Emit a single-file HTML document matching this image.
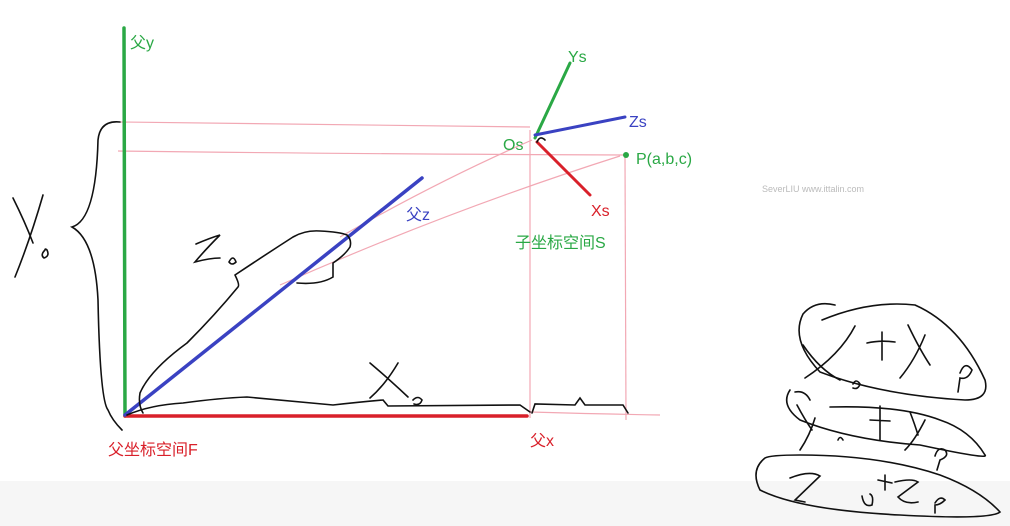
<!DOCTYPE html>
<html><head><meta charset="utf-8"><style>
html,body{margin:0;padding:0;background:#fff}
svg{display:block}
text{font-family:"Liberation Sans","Noto Sans CJK SC",sans-serif}
</style></head><body>
<svg width="1010" height="526" viewBox="0 0 1010 526">
<rect x="0" y="0" width="1010" height="526" fill="#fff"/>
<rect x="0" y="481" width="1010" height="45" fill="#f6f6f6"/>
<g stroke="#f2a8b4" stroke-width="1.2" fill="none">
<path d="M120 122 Q300 125 530 127"/>
<path d="M118 151 Q350 154 625 155"/>
<path d="M530 130 L530 418"/>
<path d="M625 157 L626 420"/>
<path d="M530 412 Q600 414 660 415"/>
<path d="M340 237 Q440 180 532 140"/>
<path d="M280 285 Q450 210 620 156"/>
</g>
<g stroke-linecap="round" fill="none">
<line x1="124" y1="28" x2="125" y2="416" stroke="#2aa845" stroke-width="3.5"/>
<line x1="125" y1="416" x2="527" y2="416" stroke="#d9202a" stroke-width="3.5"/>
<line x1="125" y1="415" x2="422" y2="178" stroke="#3a42c2" stroke-width="3.5"/>
<line x1="535" y1="138" x2="570" y2="63" stroke="#2aa845" stroke-width="3"/>
<line x1="535" y1="135" x2="625" y2="117" stroke="#3a42c2" stroke-width="3"/>
<line x1="537" y1="142" x2="590" y2="195" stroke="#d9202a" stroke-width="3"/>
</g>
<circle cx="626" cy="155" r="3" fill="#2aa845"/>
<g stroke="#111" stroke-width="1.6" fill="none" stroke-linecap="round">
<path d="M120 122 Q100 120 98 140 Q96 220 72 227 Q95 240 98 300 Q100 400 108 410 Q112 420 122 430"/>
<path d="M13 198 Q25 222 33 243 M43 195 Q30 240 15 277 M45 250 Q40 255 44 258 Q50 256 47 250 Q45 248 45 250"/>
<path d="M196 244 Q210 238 220 235 Q205 250 195 262 Q210 258 220 258 M229 262 Q233 254 236 262 Q232 266 229 262"/>
<path d="M235 275 Q265 255 293 237 Q305 230 320 231 Q340 232 347 235 Q352 240 350 247 Q345 255 333 263 Q333 270 333 277 Q320 285 297 283 M235 275 Q240 285 238 287 Q215 315 187 343 Q150 370 140 393 Q138 405 143 413"/>
<path d="M127 415 Q150 405 183 403 Q220 398 247 397 Q300 402 333 405 Q360 402 383 400 L388 406 L520 405 L530 412"/>
<path d="M370 363 Q390 380 408 397 M398 363 Q385 385 370 398 M413 400 Q418 395 422 400 Q420 406 414 404"/>
<path d="M532 413 L535 404 L575 405 L580 398 L585 405 L623 405 L628 413"/>
<path d="M537 142 Q540 135 545 140"/>
<path d="M803 314 Q815 300 835 305 M822 320 Q870 300 915 305 Q960 325 985 380 Q990 400 965 400 Q880 395 820 372 Q790 340 803 314"/>
<path d="M803 345 Q820 370 840 380 M855 326 Q840 355 805 378 M867 343 Q880 340 895 342 M882 332 L882 360 M908 325 Q920 350 930 365 M925 335 Q915 360 900 378 M960 373 Q965 360 972 370 Q968 380 960 378 L958 392 M853 384 Q856 378 860 384 Q858 390 853 388"/>
<path d="M790 390 Q780 405 800 420 Q850 440 920 445 Q990 460 985 455 Q970 430 940 420 Q900 405 830 407 M795 392 Q805 390 810 400"/>
<path d="M797 405 Q805 420 812 430 M815 418 Q810 435 800 450 M870 420 L890 421 M880 406 L880 440 M910 412 Q915 425 918 435 M925 420 Q915 440 905 450 M935 456 Q938 446 945 450 Q950 456 940 460 L937 470 M838 440 Q840 435 843 440"/>
<path d="M765 458 Q750 470 760 490 Q800 510 900 515 Q990 520 1000 512 Q980 490 940 475 Q880 455 800 455 Q770 455 765 458"/>
<path d="M790 478 Q810 470 820 476 L795 500 L805 502 M878 480 L892 483 M885 475 L885 490 M895 482 Q912 478 918 482 L898 497 Q905 505 918 502 M862 496 Q864 508 872 505 Q874 496 870 494 M935 503 Q940 495 945 500 Q940 505 935 505 L935 513"/>
</g>
<g font-size="16">
<text x="130" y="48" fill="#2aa845">父y</text>
<text x="108" y="455" fill="#d9202a">父坐标空间F</text>
<text x="530" y="446" fill="#d9202a">父x</text>
<text x="406" y="220" fill="#3a42c2">父z</text>
<text x="568" y="62" fill="#2aa845">Ys</text>
<text x="629" y="127" fill="#3a42c2">Zs</text>
<text x="591" y="216" fill="#d9202a">Xs</text>
<text x="503" y="150" fill="#2aa845">Os</text>
<text x="636" y="164" fill="#2aa845">P(a,b,c)</text>
<text x="515" y="248" fill="#2aa845">子坐标空间S</text>
</g>
<text x="762" y="192" font-size="9" fill="#bbb">SeverLIU www.ittalin.com</text>
</svg>
</body></html>
